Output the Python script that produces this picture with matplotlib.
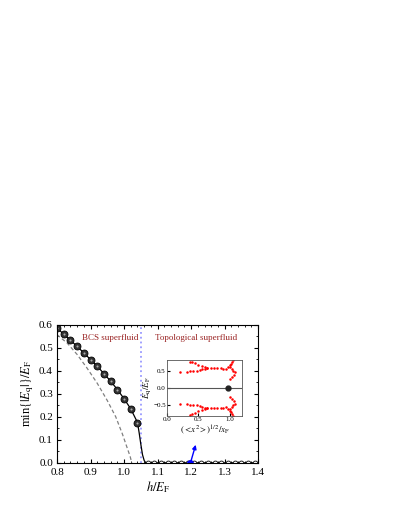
import numpy as np
import matplotlib
matplotlib.use("Agg")
import matplotlib.pyplot as plt
from matplotlib.ticker import MultipleLocator

plt.rcParams['font.family'] = ['Liberation Serif', 'DejaVu Serif']
plt.rcParams['mathtext.fontset'] = 'stix'

# datos principales
h_puntos = [0.80, 0.82, 0.84, 0.86, 0.88, 0.90, 0.92, 0.94, 0.96, 0.98, 1.00, 1.02, 1.04]
e_puntos = [0.585, 0.558, 0.532, 0.505, 0.477, 0.448, 0.419, 0.387, 0.354, 0.318, 0.278, 0.234, 0.175]

h_linea = [0.80, 0.82, 0.84, 0.86, 0.88, 0.90, 0.92, 0.94, 0.96, 0.98, 1.00, 1.02, 1.04,
           1.045, 1.05, 1.055, 1.06, 1.065, 1.40]
e_linea = [0.585, 0.558, 0.532, 0.505, 0.477, 0.448, 0.419, 0.387, 0.354, 0.318, 0.278, 0.234, 0.175,
           0.13, 0.08, 0.035, 0.01, 0.0, 0.0]

h_cero = [1.07, 1.09, 1.11, 1.13, 1.15, 1.17, 1.19, 1.21, 1.23, 1.25, 1.27, 1.29, 1.31, 1.33, 1.35, 1.37, 1.39]
e_cero = [0.0] * len(h_cero)

# curva BCS (discontinua)
h_bcs = [0.80, 0.83, 0.86, 0.89, 0.92, 0.95, 0.975, 0.995, 1.008, 1.018, 1.023]
e_bcs = [0.556, 0.52, 0.47, 0.41, 0.345, 0.27, 0.20, 0.125, 0.07, 0.028, 0.0]

h_critico = 1.051

# datos del inset (rama superior, la inferior es simetrica)
x_inset = [0.20, 0.32, 0.37, 0.42, 0.47, 0.52, 0.56, 0.60, 0.64,
           0.36, 0.40, 0.45, 0.50, 0.55, 0.60, 0.63,
           0.70, 0.75, 0.80, 0.86, 0.90,
           0.94, 0.97, 1.00, 1.02, 1.04, 1.06,
           1.00, 1.03, 1.06, 1.08, 1.07, 1.04, 1.01]
y_inset = [0.45, 0.47, 0.48, 0.49, 0.50, 0.52, 0.54, 0.56, 0.57,
           0.76, 0.74, 0.71, 0.67, 0.63, 0.60, 0.58,
           0.57, 0.58, 0.58, 0.57, 0.56,
           0.55, 0.60, 0.65, 0.70, 0.75, 0.80,
           0.60, 0.55, 0.50, 0.45, 0.38, 0.32, 0.27]
x_dot = [0.97]
y_dot = [0.0]

fig = plt.figure(figsize=(3.99, 5.16), dpi=100)
ax = fig.add_axes([0.143, 0.103, 0.504, 0.268])

ax.plot(h_bcs, e_bcs, '--', color='gray', lw=0.9, dashes=(3, 2))
ax.axvline(h_critico, color='#9999ff', ls=':', lw=1.3)
ax.plot(h_linea, e_linea, '-', color='black', lw=0.9)
ax.plot(h_puntos, e_puntos, 'o', color='#333333', mec='black', mew=0.6, ms=5)
ax.plot(h_puntos, e_puntos, 'o', color='#aaaaaa', ms=1.5, mew=0)
ax.plot(h_cero, e_cero, 'o', mfc='white', mec='black', mew=0.6, ms=3.5)
ax.annotate('', xy=(1.216, 0.09), xytext=(1.198, 0.0),
            arrowprops=dict(arrowstyle='-|>', color='blue', lw=1, mutation_scale=6))
ax.plot([1.198], [0.0], 'o', color='blue', ms=4, clip_on=True)

ax.text(0.958, 0.54, 'BCS superfluid', color='#992222', fontsize=6.5, ha='center', va='center')
ax.text(1.215, 0.54, 'Topological superfluid', color='#992222', fontsize=6.5, ha='center', va='center')

ax.set_xlim(0.8, 1.4)
ax.set_ylim(0.0, 0.6)
ax.xaxis.set_major_locator(MultipleLocator(0.1))
ax.xaxis.set_minor_locator(MultipleLocator(0.02))
ax.yaxis.set_major_locator(MultipleLocator(0.1))
ax.yaxis.set_minor_locator(MultipleLocator(0.05))
ax.tick_params(which='both', direction='in', top=True, right=True, labelsize=8)
ax.tick_params(axis='x', pad=4)
ax.tick_params(axis='y', pad=3)
ax.tick_params(which='major', length=3)
ax.tick_params(which='minor', length=1.5)
ax.set_xlabel(r'$h/E_{\rm F}$', fontsize=9, labelpad=1)
ax.set_ylabel(r'min$\{|E_{\rm q}|\}/E_{\rm F}$', fontsize=9, labelpad=2)

# inset
axi = fig.add_axes([0.419, 0.194, 0.188, 0.108])
axi.axhline(0, color='#555555', lw=0.8)
axi.plot(x_inset, y_inset, 'o', color='red', ms=1.8, mew=0)
axi.plot(x_inset, [-v for v in y_inset], 'o', color='red', ms=1.8, mew=0)
axi.plot(x_dot, y_dot, 'o', color='#222222', ms=3.5)
axi.set_xlim(0, 1.2)
axi.set_ylim(-0.8, 0.8)
axi.set_xticks([0.0, 0.5, 1.0])
axi.set_yticks([-0.5, 0.0, 0.5])
axi.tick_params(direction='in', labelsize=5, length=2, pad=1)
for s in axi.spines.values():
    s.set_color('#555555')
    s.set_linewidth(0.6)
axi.set_xlabel(r'$(<\!x^2\!>)^{1/2}/x_{\rm F}$', fontsize=6.5, labelpad=1)
axi.set_ylabel(r'$E_{\rm q}/E_{\rm F}$', fontsize=6.5, labelpad=0)

fig.savefig('out.png', dpi=100)
